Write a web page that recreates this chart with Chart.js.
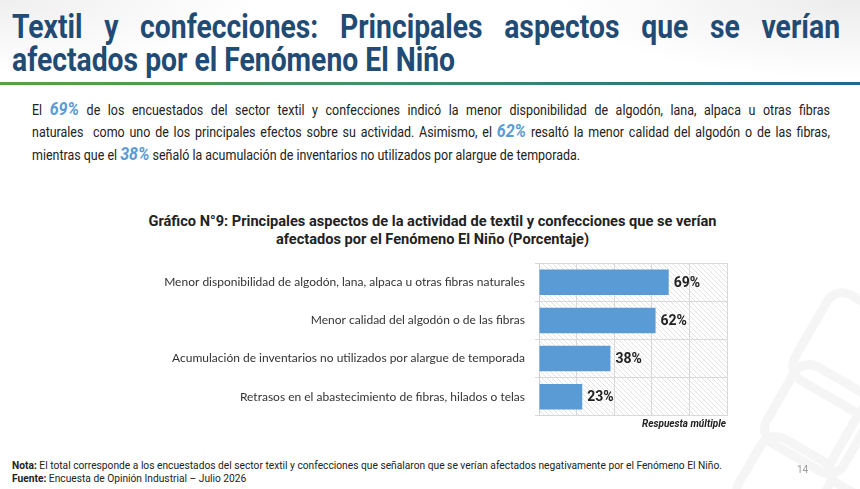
<!DOCTYPE html>
<html>
<head>
<meta charset="utf-8">
<script src="https://cdn.jsdelivr.net/npm/chart.js@4.4.1/dist/chart.umd.min.js"></script>
<style>
  html,body{margin:0;padding:0;}
  body{width:860px;height:489px;position:relative;overflow:hidden;background:#fff;font-family:Roboto,"Noto Sans",sans-serif;}
  .bgtop{position:absolute;left:0;top:0;width:860px;height:90px;background:radial-gradient(ellipse 300px 80px at 860px 0px,#ececec,rgba(255,255,255,0)),radial-gradient(ellipse 260px 70px at 0px 0px,#efefef,rgba(255,255,255,0));}
  .hex{position:absolute;border:9px solid #f5f5f5;border-radius:22px;transform:rotate(30deg);}
  .ttl{position:absolute;left:12px;font-weight:700;font-size:33px;color:#1f4b74;white-space:nowrap;transform-origin:0 0;line-height:1;}
  .rule{position:absolute;left:0;top:82px;width:860px;height:3px;background:linear-gradient(90deg,#5ba142 0%,#3f8f6a 45%,#1d6a8c 100%);}
  .pl{position:absolute;left:32px;font-size:14px;color:#222;white-space:nowrap;transform-origin:0 0;line-height:1;}
  .pl.j{text-align:justify;text-align-last:justify;}
  .hl{font-weight:700;font-style:italic;font-size:18px;color:#5b9bd5;}
  .ctitle{position:absolute;left:80px;width:705px;top:212px;text-align:center;font-weight:700;font-size:14.6px;color:#222;line-height:18px;}
  #wrap{position:absolute;left:100px;top:246px;width:665px;height:187px;}
  .resp{position:absolute;right:134px;top:418px;font-weight:700;font-style:italic;font-size:10px;color:#222;}
  .note{position:absolute;left:12px;font-size:11px;color:#222;white-space:nowrap;transform-origin:0 0;line-height:1;}
  .pg{position:absolute;left:797px;top:464px;font-size:10px;color:#9a9a9a;}
</style>
</head>
<body>
<div class="bgtop"></div>
<div class="hex" style="left:800px;top:300px;width:90px;height:90px;"></div>
<div class="hex" style="left:770px;top:370px;width:80px;height:80px;"></div>
<div class="hex" style="left:835px;top:410px;width:80px;height:80px;"></div>
<div class="hex" style="left:740px;top:440px;width:70px;height:70px;"></div>

<div class="ttl" id="t1" style="top:10px;">Textil y confecciones: Principales aspectos que se verían</div>
<div class="ttl" id="t2" style="top:43px;"><span id="t2s">afectados por el Fenómeno El Niño</span></div>
<div class="rule"></div>

<div class="pl j" id="p1" style="top:100px;">El <span class="hl">69%</span> de los encuestados del sector textil y confecciones indicó la menor disponibilidad de algodón, lana, alpaca u otras fibras</div>
<div class="pl j" id="p2" style="top:122px;">naturales &nbsp;como uno de los principales efectos sobre su actividad. Asimismo, el <span class="hl">62%</span> resaltó la menor calidad del algodón o de las fibras,</div>
<div class="pl" id="p3" style="top:145px;"><span id="p3s">mientras que el <span class="hl">38%</span> señaló la acumulación de inventarios no utilizados por alargue de temporada.</span></div>

<div class="ctitle">Gráfico N°9: Principales aspectos de la actividad de textil y confecciones que se verían<br>afectados por el Fenómeno El Niño (Porcentaje)</div>
<div id="wrap"><canvas id="c"></canvas></div>
<div class="resp">Respuesta múltiple</div>

<div class="note" id="n1" style="top:460px;"><span id="n1s"><b>Nota:</b> El total corresponde a los encuestados del sector textil y confecciones que señalaron que se verían afectados negativamente por el Fenómeno El Niño.</span></div>
<div class="note" id="n2" style="top:473px;"><b>Fuente:</b> Encuesta de Opinión Industrial – Julio 2026</div>
<div class="pg">14</div>

<script>
const categories = [
  "Menor disponibilidad de algodón, lana, alpaca u otras fibras naturales",
  "Menor calidad del algodón o de las fibras",
  "Acumulación de inventarios no utilizados por alargue de temporada",
  "Retrasos en el abastecimiento de fibras, hilados o telas"
];
const values = [69, 62, 38, 23];
const axisMin = 0;
const axisMax = 100;
const axisStep = 20;

function fitText(){
  const w2 = document.getElementById('t2s').getBoundingClientRect().width;
  const s = 443 / w2;
  const t1 = document.getElementById('t1');
  const t2 = document.getElementById('t2');
  t1.style.width = (828 / s) + 'px';
  t1.style.textAlign = 'justify';
  t1.style.textAlignLast = 'justify';
  t1.style.transform = 'scaleX(' + s + ')';
  t2.style.transform = 'scaleX(' + s + ')';
  const w3 = document.getElementById('p3s').getBoundingClientRect().width;
  const sp = 548 / w3;
  ['p1','p2'].forEach(id => {
    const e = document.getElementById(id);
    e.style.width = (798 / sp) + 'px';
    e.style.transform = 'scaleX(' + sp + ')';
  });
  document.getElementById('p3').style.transform = 'scaleX(' + sp + ')';
  const wn = document.getElementById('n1s').getBoundingClientRect().width;
  const sn = 710 / wn;
  ['n1','n2'].forEach(id => document.getElementById(id).style.transform = 'scaleX(' + sn + ')');
}
fitText();

function makeHatch(){
  const p = document.createElement('canvas');
  p.width = 5; p.height = 5;
  const g = p.getContext('2d');
  g.fillStyle = '#ffffff';
  g.fillRect(0,0,5,5);
  g.strokeStyle = '#e3e3e3';
  g.lineWidth = 1;
  g.beginPath();
  g.moveTo(0,0); g.lineTo(5,5);
  g.moveTo(-1,4); g.lineTo(1,6);
  g.moveTo(4,-1); g.lineTo(6,1);
  g.stroke();
  return p;
}

const hatchPlugin = {
  id: 'hatch',
  beforeDraw(chart){
    const {ctx, chartArea:a} = chart;
    ctx.save();
    ctx.fillStyle = ctx.createPattern(makeHatch(), 'repeat');
    ctx.fillRect(a.left, a.top, a.right - a.left, a.bottom - a.top);
    ctx.restore();
  }
};

const labelPlugin = {
  id: 'vlabels',
  afterDatasetsDraw(chart){
    const ctx = chart.ctx;
    const meta = chart.getDatasetMeta(0);
    ctx.save();
    ctx.font = 'bold 14px Roboto';
    ctx.fillStyle = '#222';
    ctx.textAlign = 'left';
    ctx.textBaseline = 'middle';
    meta.data.forEach((bar, i) => {
      ctx.fillText(values[i] + '%', bar.x + 5, bar.y + 1);
    });
    ctx.restore();
  }
};

new Chart(document.getElementById('c'), {
  type: 'bar',
  data: {
    labels: categories,
    datasets: [{
      data: values,
      backgroundColor: '#5b9bd5',
      borderWidth: 0,
      categoryPercentage: 1,
      barPercentage: 0.67
    }]
  },
  options: {
    indexAxis: 'y',
    responsive: true,
    maintainAspectRatio: false,
    animation: false,
    layout: { padding: { top: 0, right: 38, bottom: 11, left: 0 } },
    plugins: { legend: { display: false }, tooltip: { enabled: false }, title: { display: false } },
    scales: {
      x: {
        min: axisMin, max: axisMax,
        ticks: { display: false, stepSize: axisStep },
        grid: { color: '#d9d9d9', drawTicks: false, lineWidth: 1 },
        border: { display: false }
      },
      y: {
        ticks: { color: '#333333', font: { family: 'Lato', size: 12 }, padding: 10 },
        grid: { color: '#d9d9d9', tickLength: 4, offset: true },
        border: { color: '#d0d0d0' },
        afterFit(scale){ scale.width = 439; }
      }
    }
  },
  plugins: [hatchPlugin, labelPlugin]
});
</script>
</body>
</html>
